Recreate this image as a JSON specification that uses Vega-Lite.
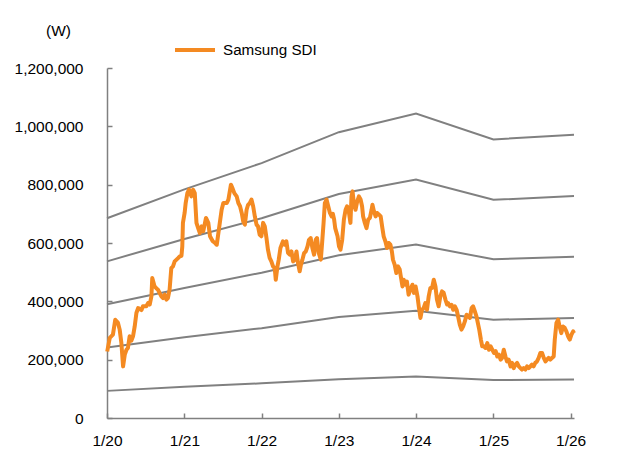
{
  "$schema": "https://vega.github.io/schema/vega-lite/v6.json",
  "width": 467,
  "height": 350,
  "autosize": "none",
  "padding": {"left": 107, "top": 68, "right": 64, "bottom": 32},
  "background": "white",
  "config": {
    "view": {"stroke": null},
    "font": "Liberation Sans",
    "axis": {"labelFont": "Liberation Sans", "titleFont": "Liberation Sans", "labelColor": "#000", "titleColor": "#000", "labelFontSize": 15.5, "titleFontSize": 15.5, "titleFontWeight": "normal", "domainColor": "#808080", "tickColor": "#808080", "domainWidth": 1.5, "tickWidth": 1.5, "grid": false},
    "legend": {"labelFont": "Liberation Sans", "labelFontSize": 15.2, "labelColor": "#000"}
  },
  "datasets": {
    "price": [
      {"d": "2020-01-02", "v": 228000}, {"d": "2020-01-14", "v": 275000}, {"d": "2020-01-29", "v": 286000}, {"d": "2020-02-09", "v": 337000},
      {"d": "2020-02-22", "v": 326000}, {"d": "2020-03-01", "v": 303000}, {"d": "2020-03-09", "v": 257000}, {"d": "2020-03-17", "v": 177000},
      {"d": "2020-03-25", "v": 217000}, {"d": "2020-04-02", "v": 234000}, {"d": "2020-04-09", "v": 240000}, {"d": "2020-04-17", "v": 280000},
      {"d": "2020-04-25", "v": 265000}, {"d": "2020-05-03", "v": 280000}, {"d": "2020-05-11", "v": 314000}, {"d": "2020-05-19", "v": 360000},
      {"d": "2020-05-27", "v": 377000}, {"d": "2020-06-12", "v": 370000}, {"d": "2020-06-19", "v": 383000}, {"d": "2020-07-05", "v": 383000},
      {"d": "2020-07-13", "v": 394000}, {"d": "2020-07-21", "v": 389000}, {"d": "2020-07-29", "v": 417000}, {"d": "2020-08-02", "v": 480000},
      {"d": "2020-08-13", "v": 451000}, {"d": "2020-08-21", "v": 445000}, {"d": "2020-08-29", "v": 440000}, {"d": "2020-09-06", "v": 428000},
      {"d": "2020-09-14", "v": 417000}, {"d": "2020-09-22", "v": 411000}, {"d": "2020-09-30", "v": 423000}, {"d": "2020-10-08", "v": 406000},
      {"d": "2020-10-15", "v": 411000}, {"d": "2020-10-23", "v": 440000}, {"d": "2020-10-31", "v": 514000}, {"d": "2020-11-08", "v": 520000},
      {"d": "2020-11-16", "v": 537000}, {"d": "2020-12-02", "v": 548000}, {"d": "2020-12-10", "v": 554000}, {"d": "2020-12-18", "v": 556000},
      {"d": "2020-12-22", "v": 588000}, {"d": "2020-12-25", "v": 669000}, {"d": "2021-01-02", "v": 703000}, {"d": "2021-01-07", "v": 737000},
      {"d": "2021-01-15", "v": 771000}, {"d": "2021-01-23", "v": 783000}, {"d": "2021-02-03", "v": 760000}, {"d": "2021-02-11", "v": 783000},
      {"d": "2021-02-19", "v": 771000}, {"d": "2021-02-27", "v": 669000}, {"d": "2021-03-07", "v": 651000}, {"d": "2021-03-15", "v": 634000},
      {"d": "2021-03-23", "v": 657000}, {"d": "2021-03-31", "v": 640000}, {"d": "2021-04-13", "v": 686000}, {"d": "2021-04-24", "v": 669000},
      {"d": "2021-05-02", "v": 623000}, {"d": "2021-05-15", "v": 606000}, {"d": "2021-05-26", "v": 600000}, {"d": "2021-06-03", "v": 594000},
      {"d": "2021-06-15", "v": 657000}, {"d": "2021-06-26", "v": 714000}, {"d": "2021-07-04", "v": 737000}, {"d": "2021-07-20", "v": 737000},
      {"d": "2021-07-28", "v": 749000}, {"d": "2021-08-09", "v": 800000}, {"d": "2021-08-15", "v": 790000}, {"d": "2021-08-25", "v": 771000},
      {"d": "2021-09-05", "v": 760000}, {"d": "2021-09-13", "v": 737000}, {"d": "2021-09-21", "v": 726000}, {"d": "2021-09-29", "v": 703000},
      {"d": "2021-10-06", "v": 674000}, {"d": "2021-10-14", "v": 663000}, {"d": "2021-10-22", "v": 714000}, {"d": "2021-10-29", "v": 731000},
      {"d": "2021-11-06", "v": 737000}, {"d": "2021-11-14", "v": 749000}, {"d": "2021-11-22", "v": 726000}, {"d": "2021-11-30", "v": 691000},
      {"d": "2021-12-08", "v": 663000}, {"d": "2021-12-15", "v": 657000}, {"d": "2021-12-23", "v": 628000}, {"d": "2021-12-31", "v": 623000},
      {"d": "2022-01-08", "v": 669000}, {"d": "2022-01-16", "v": 657000}, {"d": "2022-01-24", "v": 617000}, {"d": "2022-01-31", "v": 577000},
      {"d": "2022-02-08", "v": 549000}, {"d": "2022-02-16", "v": 537000}, {"d": "2022-02-24", "v": 520000}, {"d": "2022-03-04", "v": 514000},
      {"d": "2022-03-09", "v": 474000}, {"d": "2022-03-17", "v": 520000}, {"d": "2022-03-23", "v": 543000}, {"d": "2022-03-31", "v": 583000},
      {"d": "2022-04-12", "v": 606000}, {"d": "2022-04-20", "v": 594000}, {"d": "2022-04-28", "v": 606000}, {"d": "2022-05-06", "v": 566000},
      {"d": "2022-05-14", "v": 560000}, {"d": "2022-05-22", "v": 571000}, {"d": "2022-05-30", "v": 537000}, {"d": "2022-06-07", "v": 543000},
      {"d": "2022-06-15", "v": 571000}, {"d": "2022-06-22", "v": 531000}, {"d": "2022-06-30", "v": 503000}, {"d": "2022-07-06", "v": 526000},
      {"d": "2022-07-13", "v": 543000}, {"d": "2022-07-21", "v": 566000}, {"d": "2022-07-29", "v": 571000}, {"d": "2022-08-06", "v": 588000},
      {"d": "2022-08-13", "v": 611000}, {"d": "2022-08-21", "v": 617000}, {"d": "2022-08-29", "v": 583000}, {"d": "2022-09-06", "v": 560000},
      {"d": "2022-09-14", "v": 611000}, {"d": "2022-09-20", "v": 617000}, {"d": "2022-09-28", "v": 566000}, {"d": "2022-10-08", "v": 543000},
      {"d": "2022-10-14", "v": 600000}, {"d": "2022-10-21", "v": 669000}, {"d": "2022-10-27", "v": 737000}, {"d": "2022-11-04", "v": 749000},
      {"d": "2022-11-12", "v": 726000}, {"d": "2022-11-20", "v": 703000}, {"d": "2022-11-28", "v": 691000}, {"d": "2022-12-04", "v": 700000},
      {"d": "2022-12-10", "v": 680000}, {"d": "2022-12-15", "v": 651000}, {"d": "2022-12-26", "v": 623000}, {"d": "2023-01-02", "v": 588000},
      {"d": "2023-01-09", "v": 577000}, {"d": "2023-01-17", "v": 611000}, {"d": "2023-01-25", "v": 680000}, {"d": "2023-02-02", "v": 714000},
      {"d": "2023-02-09", "v": 726000}, {"d": "2023-02-17", "v": 709000}, {"d": "2023-02-25", "v": 669000}, {"d": "2023-03-02", "v": 760000},
      {"d": "2023-03-07", "v": 777000}, {"d": "2023-03-13", "v": 737000}, {"d": "2023-03-21", "v": 714000}, {"d": "2023-03-29", "v": 743000},
      {"d": "2023-04-06", "v": 760000}, {"d": "2023-04-14", "v": 749000}, {"d": "2023-04-21", "v": 726000}, {"d": "2023-04-26", "v": 691000},
      {"d": "2023-05-04", "v": 669000}, {"d": "2023-05-12", "v": 651000}, {"d": "2023-05-20", "v": 680000}, {"d": "2023-05-28", "v": 686000},
      {"d": "2023-06-05", "v": 714000}, {"d": "2023-06-09", "v": 731000}, {"d": "2023-06-16", "v": 709000}, {"d": "2023-06-24", "v": 691000},
      {"d": "2023-07-01", "v": 703000}, {"d": "2023-07-10", "v": 697000}, {"d": "2023-07-18", "v": 691000}, {"d": "2023-07-26", "v": 651000},
      {"d": "2023-08-01", "v": 623000}, {"d": "2023-08-09", "v": 606000}, {"d": "2023-08-17", "v": 583000}, {"d": "2023-08-25", "v": 600000},
      {"d": "2023-09-02", "v": 594000}, {"d": "2023-09-09", "v": 571000}, {"d": "2023-09-14", "v": 543000}, {"d": "2023-09-22", "v": 526000},
      {"d": "2023-09-30", "v": 497000}, {"d": "2023-10-08", "v": 520000}, {"d": "2023-10-16", "v": 509000}, {"d": "2023-10-21", "v": 486000},
      {"d": "2023-10-29", "v": 451000}, {"d": "2023-11-04", "v": 474000}, {"d": "2023-11-12", "v": 457000}, {"d": "2023-11-19", "v": 468000},
      {"d": "2023-11-27", "v": 423000}, {"d": "2023-12-05", "v": 440000}, {"d": "2023-12-15", "v": 457000}, {"d": "2023-12-22", "v": 429000},
      {"d": "2023-12-30", "v": 451000}, {"d": "2024-01-08", "v": 417000}, {"d": "2024-01-14", "v": 383000}, {"d": "2024-01-22", "v": 343000},
      {"d": "2024-01-29", "v": 371000}, {"d": "2024-02-06", "v": 377000}, {"d": "2024-02-14", "v": 394000}, {"d": "2024-02-22", "v": 371000},
      {"d": "2024-03-01", "v": 417000}, {"d": "2024-03-09", "v": 446000}, {"d": "2024-03-17", "v": 446000}, {"d": "2024-03-25", "v": 474000},
      {"d": "2024-04-02", "v": 451000}, {"d": "2024-04-09", "v": 406000}, {"d": "2024-04-17", "v": 383000}, {"d": "2024-04-25", "v": 417000},
      {"d": "2024-05-03", "v": 434000}, {"d": "2024-05-11", "v": 429000}, {"d": "2024-05-19", "v": 406000}, {"d": "2024-05-27", "v": 389000},
      {"d": "2024-06-01", "v": 394000}, {"d": "2024-06-09", "v": 383000}, {"d": "2024-06-17", "v": 388000}, {"d": "2024-06-25", "v": 371000},
      {"d": "2024-07-03", "v": 383000}, {"d": "2024-07-11", "v": 371000}, {"d": "2024-07-18", "v": 348000}, {"d": "2024-07-26", "v": 320000},
      {"d": "2024-08-03", "v": 303000}, {"d": "2024-08-11", "v": 314000}, {"d": "2024-08-19", "v": 331000}, {"d": "2024-08-27", "v": 354000},
      {"d": "2024-09-04", "v": 348000}, {"d": "2024-09-12", "v": 343000}, {"d": "2024-09-20", "v": 377000}, {"d": "2024-09-27", "v": 383000},
      {"d": "2024-10-05", "v": 366000}, {"d": "2024-10-13", "v": 348000}, {"d": "2024-10-21", "v": 320000}, {"d": "2024-10-26", "v": 303000},
      {"d": "2024-11-03", "v": 268000}, {"d": "2024-11-09", "v": 246000}, {"d": "2024-11-17", "v": 246000}, {"d": "2024-11-25", "v": 240000},
      {"d": "2024-12-03", "v": 257000}, {"d": "2024-12-11", "v": 234000}, {"d": "2024-12-19", "v": 246000}, {"d": "2024-12-27", "v": 234000},
      {"d": "2025-01-04", "v": 223000}, {"d": "2025-01-12", "v": 229000}, {"d": "2025-01-19", "v": 211000}, {"d": "2025-01-27", "v": 217000},
      {"d": "2025-02-04", "v": 200000}, {"d": "2025-02-11", "v": 206000}, {"d": "2025-02-19", "v": 234000}, {"d": "2025-02-27", "v": 211000},
      {"d": "2025-03-06", "v": 194000}, {"d": "2025-03-14", "v": 200000}, {"d": "2025-03-23", "v": 177000}, {"d": "2025-03-30", "v": 189000},
      {"d": "2025-04-07", "v": 171000}, {"d": "2025-04-15", "v": 183000}, {"d": "2025-04-23", "v": 189000}, {"d": "2025-05-01", "v": 177000},
      {"d": "2025-05-09", "v": 171000}, {"d": "2025-05-16", "v": 166000}, {"d": "2025-05-24", "v": 171000}, {"d": "2025-06-01", "v": 166000},
      {"d": "2025-06-09", "v": 177000}, {"d": "2025-06-17", "v": 171000}, {"d": "2025-06-25", "v": 177000}, {"d": "2025-07-02", "v": 183000},
      {"d": "2025-07-10", "v": 177000}, {"d": "2025-07-18", "v": 189000}, {"d": "2025-07-26", "v": 194000}, {"d": "2025-08-03", "v": 206000},
      {"d": "2025-08-11", "v": 223000}, {"d": "2025-08-19", "v": 223000}, {"d": "2025-08-27", "v": 206000}, {"d": "2025-09-04", "v": 194000},
      {"d": "2025-09-11", "v": 200000}, {"d": "2025-09-19", "v": 206000}, {"d": "2025-09-27", "v": 200000}, {"d": "2025-10-05", "v": 206000},
      {"d": "2025-10-13", "v": 211000}, {"d": "2025-10-18", "v": 268000}, {"d": "2025-10-26", "v": 326000}, {"d": "2025-11-03", "v": 337000},
      {"d": "2025-11-10", "v": 314000}, {"d": "2025-11-18", "v": 291000}, {"d": "2025-11-26", "v": 314000}, {"d": "2025-12-04", "v": 309000},
      {"d": "2025-12-12", "v": 297000}, {"d": "2025-12-20", "v": 280000}, {"d": "2025-12-28", "v": 269000}, {"d": "2026-01-05", "v": 286000},
      {"d": "2026-01-13", "v": 297000}, {"d": "2026-01-17", "v": 291000}
    ],
    "bands": [
      {"d": "2020-01-01", "band": "3.6x", "v": 685000}, {"d": "2021-01-01", "band": "3.6x", "v": 784000}, {"d": "2022-01-01", "band": "3.6x", "v": 874000},
      {"d": "2023-01-01", "band": "3.6x", "v": 980000}, {"d": "2024-01-01", "band": "3.6x", "v": 1044000}, {"d": "2025-01-01", "band": "3.6x", "v": 955000}, {"d": "2026-01-17", "band": "3.6x", "v": 971000},
      {"d": "2020-01-01", "band": "2.8x", "v": 537000}, {"d": "2021-01-01", "band": "2.8x", "v": 614000}, {"d": "2022-01-01", "band": "2.8x", "v": 685000},
      {"d": "2023-01-01", "band": "2.8x", "v": 768000}, {"d": "2024-01-01", "band": "2.8x", "v": 818000}, {"d": "2025-01-01", "band": "2.8x", "v": 748000}, {"d": "2026-01-17", "band": "2.8x", "v": 761000},
      {"d": "2020-01-01", "band": "2.1x", "v": 390000}, {"d": "2021-01-01", "band": "2.1x", "v": 446000}, {"d": "2022-01-01", "band": "2.1x", "v": 498000},
      {"d": "2023-01-01", "band": "2.1x", "v": 558000}, {"d": "2024-01-01", "band": "2.1x", "v": 595000}, {"d": "2025-01-01", "band": "2.1x", "v": 544000}, {"d": "2026-01-17", "band": "2.1x", "v": 553000},
      {"d": "2020-01-01", "band": "1.3x", "v": 242000}, {"d": "2021-01-01", "band": "1.3x", "v": 277000}, {"d": "2022-01-01", "band": "1.3x", "v": 308000},
      {"d": "2023-01-01", "band": "1.3x", "v": 346000}, {"d": "2024-01-01", "band": "1.3x", "v": 368000}, {"d": "2025-01-01", "band": "1.3x", "v": 337000}, {"d": "2026-01-17", "band": "1.3x", "v": 343000},
      {"d": "2020-01-01", "band": "0.5x", "v": 93000}, {"d": "2021-01-01", "band": "0.5x", "v": 107000}, {"d": "2022-01-01", "band": "0.5x", "v": 119000},
      {"d": "2023-01-01", "band": "0.5x", "v": 133000}, {"d": "2024-01-01", "band": "0.5x", "v": 142000}, {"d": "2025-01-01", "band": "0.5x", "v": 130000}, {"d": "2026-01-17", "band": "0.5x", "v": 132000}
    ]
  },
  "encoding": {
    "x": {
      "field": "d", "type": "temporal",
      "scale": {"type": "utc", "domain": [{"year": 2020, "month": 1, "date": 1, "utc": true}, {"year": 2026, "month": 1, "date": 17, "utc": true}]},
      "axis": {
        "title": null,
        "labelExpr": "utcFormat(datum.value, '%-m/%y')",
        "values": [{"year": 2020, "month": 1, "date": 1, "utc": true}, {"year": 2021, "month": 1, "date": 1, "utc": true}, {"year": 2022, "month": 1, "date": 1, "utc": true}, {"year": 2023, "month": 1, "date": 1, "utc": true}, {"year": 2024, "month": 1, "date": 1, "utc": true}, {"year": 2025, "month": 1, "date": 1, "utc": true}, {"year": 2026, "month": 1, "date": 1, "utc": true}],
        "tickSize": -5, "labelPadding": 20, "labelAlign": "center", "labelFlush": false, "labelOverlap": false
      }
    },
    "y": {
      "field": "v", "type": "quantitative",
      "scale": {"domain": [0, 1200000], "nice": false, "zero": true},
      "axis": {
        "title": "(W)", "titleAngle": 0, "titleAlign": "center", "titleBaseline": "middle", "titleX": -49, "titleY": -38,
        "values": [0, 200000, 400000, 600000, 800000, 1000000, 1200000], "format": ",d",
        "tickSize": -5, "labelPadding": 29, "labelFlush": false, "labelOverlap": false
      }
    }
  },
  "layer": [
    {
      "data": {"name": "bands"},
      "mark": {"type": "line", "color": "#808080", "strokeWidth": 2},
      "encoding": {"detail": {"field": "band"}}
    },
    {
      "data": {"name": "bands"},
      "transform": [{"filter": "datum.d == '2026-01-17'"}],
      "mark": {"type": "text", "align": "left", "baseline": "middle", "dx": 18, "dy": -1, "fontSize": 15.5, "font": "Liberation Sans", "color": "#000"},
      "encoding": {"text": {"field": "band"}}
    },
    {
      "data": {"name": "price"},
      "transform": [{"calculate": "'Samsung SDI'", "as": "series"}],
      "mark": {"type": "line", "strokeWidth": 4, "strokeJoin": "round"},
      "encoding": {
        "color": {
          "field": "series", "type": "nominal",
          "scale": {"range": ["#F48A22"]},
          "legend": {"title": null, "orient": "none", "legendX": 66, "legendY": -40, "padding": 0, "symbolType": "stroke", "symbolSize": 1600, "symbolStrokeWidth": 4, "labelOffset": 6}
        }
      }
    }
  ]
}
